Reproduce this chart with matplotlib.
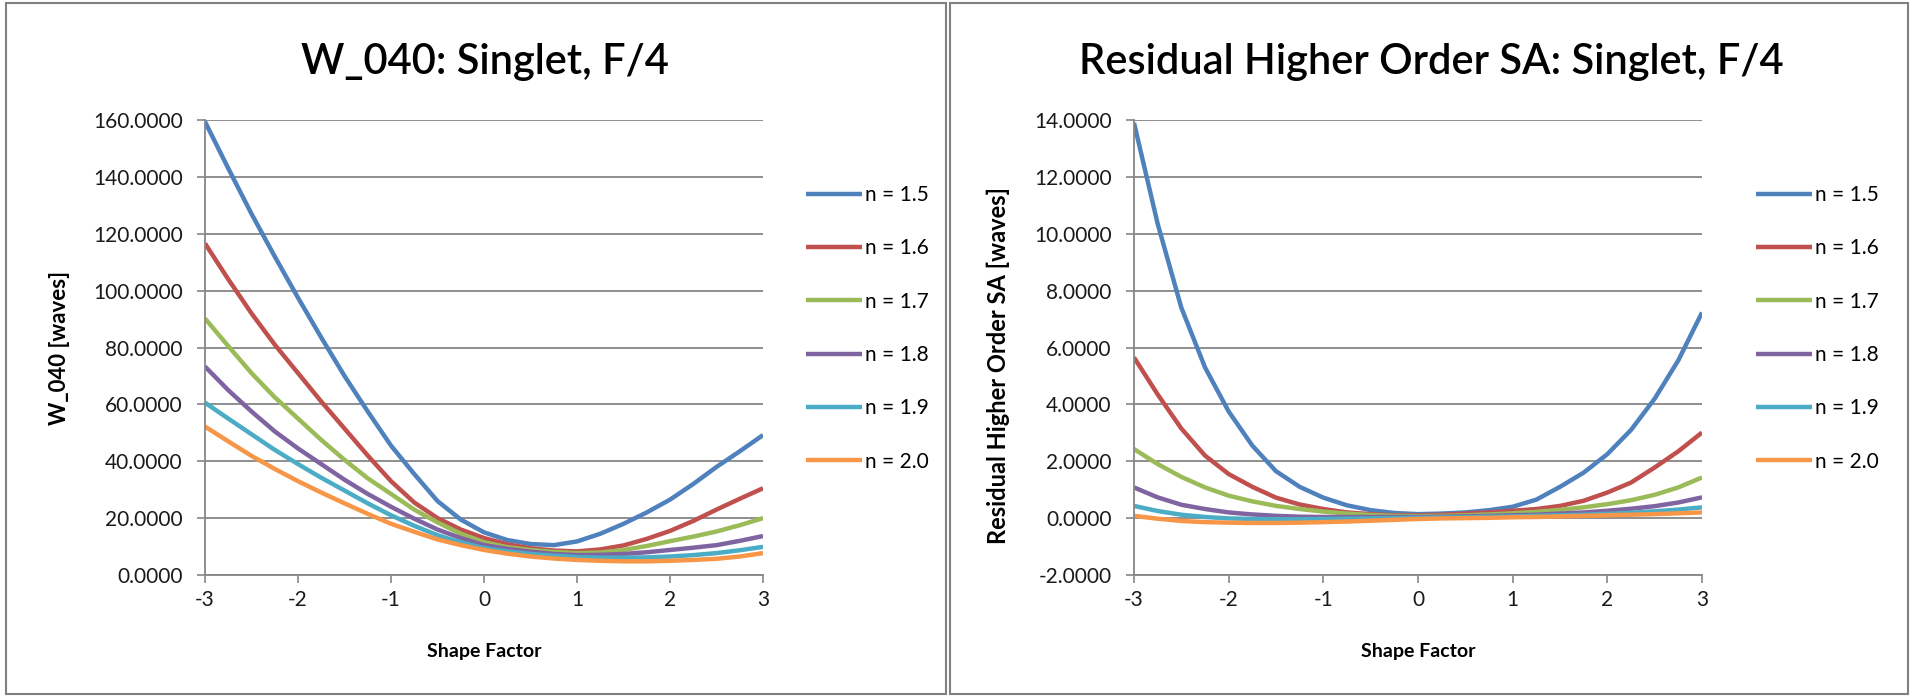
import matplotlib
matplotlib.use('Agg')
import matplotlib.pyplot as plt
from matplotlib.patches import Rectangle
from matplotlib.ticker import FormatStrFormatter

plt.rcParams['font.family'] = ['Lato', 'DejaVu Sans']
plt.rcParams['axes.unicode_minus'] = False

# valores
labels = ['n = 1.5', 'n = 1.6', 'n = 1.7', 'n = 1.8', 'n = 1.9', 'n = 2.0']
colors = ['#4F81BD', '#C0504D', '#9BBB59', '#8064A2', '#4BACC6', '#F79646']

# fator de forma, passo 0.25 (os dois graficos)
x_shape = [-3, -2.75, -2.5, -2.25, -2, -1.75, -1.5, -1.25, -1, -0.75, -0.5, -0.25, 0,
           0.25, 0.5, 0.75, 1, 1.25, 1.5, 1.75, 2, 2.25, 2.5, 2.75, 3]

# W_040 [waves]
w040_15 = [159.4, 143, 127, 112, 97.5, 83.5, 70, 57.5, 45.5, 35.5, 26, 19.5, 15,
           12.3, 10.9, 10.5, 11.8, 14.5, 18, 22, 26.5, 32, 38, 43.5, 49.2]
w040_16 = [116.6, 104, 92, 81, 71, 61, 51.5, 42, 33, 25.5, 20, 16, 13,
           10.8, 9.4, 8.6, 8.3, 9, 10.4, 12.7, 15.5, 19, 23, 26.8, 30.5]
w040_17 = [90.2, 80.5, 71, 62.5, 55, 47.5, 40.5, 34, 28.5, 23, 18.5, 14.5, 11.5,
           9.8, 8.8, 8.1, 7.7, 7.9, 8.8, 10.2, 11.9, 13.5, 15.3, 17.5, 20.0]
w040_18 = [73.3, 65, 57.5, 50.5, 44.5, 39, 33.5, 28.5, 24, 19.8, 16, 13, 10.5,
           9.2, 8.2, 7.4, 7.0, 7.1, 7.4, 8, 8.8, 9.6, 10.5, 12, 13.7]
w040_19 = [60.6, 55, 49.5, 44, 39, 34.2, 29.7, 25.2, 21, 17.3, 14, 11.5, 9.5,
           8.3, 7.4, 6.8, 6.3, 6.1, 6.1, 6.2, 6.5, 7, 7.7, 8.7, 9.9]
w040_20 = [52.2, 47, 41.9, 37.3, 33, 29, 25.2, 21.5, 18, 15.2, 12.5, 10.5, 8.8,
           7.5, 6.5, 5.8, 5.3, 5, 4.8, 4.8, 5.0, 5.3, 5.7, 6.5, 7.7]

# SA residual de ordem superior [waves]
sa_15 = [13.9, 10.35, 7.4, 5.3, 3.75, 2.55, 1.65, 1.1, 0.72, 0.45, 0.28, 0.18, 0.14,
         0.16, 0.2, 0.28, 0.4, 0.65, 1.1, 1.6, 2.25, 3.1, 4.2, 5.55, 7.23]
sa_16 = [5.65, 4.35, 3.15, 2.2, 1.55, 1.1, 0.72, 0.48, 0.32, 0.2, 0.14, 0.1, 0.1,
         0.12, 0.16, 0.2, 0.26, 0.32, 0.43, 0.61, 0.9, 1.25, 1.78, 2.35, 3.01]
sa_17 = [2.43, 1.9, 1.45, 1.08, 0.79, 0.59, 0.43, 0.32, 0.23, 0.16, 0.11, 0.08, 0.07,
         0.08, 0.1, 0.13, 0.17, 0.22, 0.29, 0.38, 0.49, 0.63, 0.82, 1.08, 1.43]
sa_18 = [1.08, 0.73, 0.47, 0.32, 0.2, 0.13, 0.08, 0.05, 0.04, 0.04, 0.04, 0.04, 0.04,
         0.05, 0.06, 0.08, 0.1, 0.12, 0.16, 0.2, 0.26, 0.33, 0.42, 0.55, 0.73]
sa_19 = [0.43, 0.25, 0.12, 0.04, -0.01, -0.03, -0.04, -0.04, -0.03, -0.02, -0.01, 0.0, 0.01,
         0.02, 0.03, 0.05, 0.06, 0.08, 0.1, 0.12, 0.15, 0.19, 0.24, 0.3, 0.38]
sa_20 = [0.08, -0.02, -0.1, -0.14, -0.16, -0.17, -0.17, -0.16, -0.14, -0.12, -0.09, -0.06, -0.03,
         -0.01, 0.0, 0.01, 0.03, 0.04, 0.06, 0.08, 0.1, 0.12, 0.14, 0.17, 0.2]

x_ticks = [-3, -2, -1, 0, 1, 2, 3]
w040_ticks = [0, 20, 40, 60, 80, 100, 120, 140, 160]
sa_ticks = [-2, 0, 2, 4, 6, 8, 10, 12, 14]

W, H = 1914, 696
grid_c = '#868686'

fig = plt.figure(figsize=(W / 100, H / 100), dpi=100)
fig.patch.set_facecolor('white')

# molduras dos dois graficos
fig.patches.append(Rectangle((6 / W, 2 / H), 940 / W, 691 / H, transform=fig.transFigure,
                             fill=False, ec='#808080', lw=1.5))
fig.patches.append(Rectangle((950 / W, 2 / H), 958 / W, 691 / H, transform=fig.transFigure,
                             fill=False, ec='#808080', lw=1.5))

ax1 = fig.add_axes([205 / W, (H - 575) / H, 558 / W, 455 / H])
ax2 = fig.add_axes([1134 / W, (H - 575) / H, 568 / W, 455 / H])

series1 = [w040_15, w040_16, w040_17, w040_18, w040_19, w040_20]
series2 = [sa_15, sa_16, sa_17, sa_18, sa_19, sa_20]

for ax, series, yt in [(ax1, series1, w040_ticks), (ax2, series2, sa_ticks)]:
    for ys, c, lab in zip(series, colors, labels):
        ax.plot(x_shape, ys, color=c, lw=3.2, label=lab, solid_joinstyle='round', solid_capstyle='butt')
    ax.set_xlim(-3, 3)
    ax.set_ylim(yt[0], yt[-1])
    ax.set_xticks(x_ticks)
    ax.set_yticks(yt)
    ax.yaxis.set_major_formatter(FormatStrFormatter('%.4f'))
    ax.grid(axis='y', color=grid_c, lw=1.3)
    ax.set_axisbelow(True)
    for s in ['top', 'right']:
        ax.spines[s].set_visible(False)
    for s in ['left', 'bottom']:
        ax.spines[s].set_color(grid_c)
        ax.spines[s].set_linewidth(1.3)
    ax.tick_params(axis='y', direction='out', length=6, width=1.2, color=grid_c,
                   labelsize=15, pad=10, labelcolor='#1a1a1a')
    ax.tick_params(axis='x', direction='out', length=6, width=1.2, color=grid_c,
                   labelsize=15, pad=5, labelcolor='#1a1a1a')

# titulos
fig.text(485 / W, 1 - 62 / H, 'W_040: Singlet, F/4', fontsize=30, fontweight='semibold',
         ha='center', va='center')
fig.text(1431 / W, 1 - 62 / H, 'Residual Higher Order SA: Singlet, F/4', fontsize=30,
         fontweight='semibold', ha='center', va='center')

fig.text(484 / W, 1 - 651 / H, 'Shape Factor', fontsize=14, fontweight='bold', ha='center', va='center')
fig.text(1418 / W, 1 - 651 / H, 'Shape Factor', fontsize=14, fontweight='bold', ha='center', va='center')
fig.text(60 / W, 1 - 348 / H, 'W_040 [waves]', fontsize=16, fontweight='bold', rotation=90,
         ha='center', va='center')
fig.text(998 / W, 1 - 365 / H, 'Residual Higher Order SA [waves]', fontsize=17, fontweight='bold',
         rotation=90, ha='center', va='center')

for ax, lx in [(ax1, 806), (ax2, 1756)]:
    ax.legend(loc='upper left', bbox_to_anchor=(lx / W, 1 - 185 / H), bbox_transform=fig.transFigure,
              frameon=False, fontsize=15, handlelength=2.7, handletextpad=0.15,
              labelspacing=1.6, borderpad=0, borderaxespad=0)

fig.savefig('out.png', dpi=100)
